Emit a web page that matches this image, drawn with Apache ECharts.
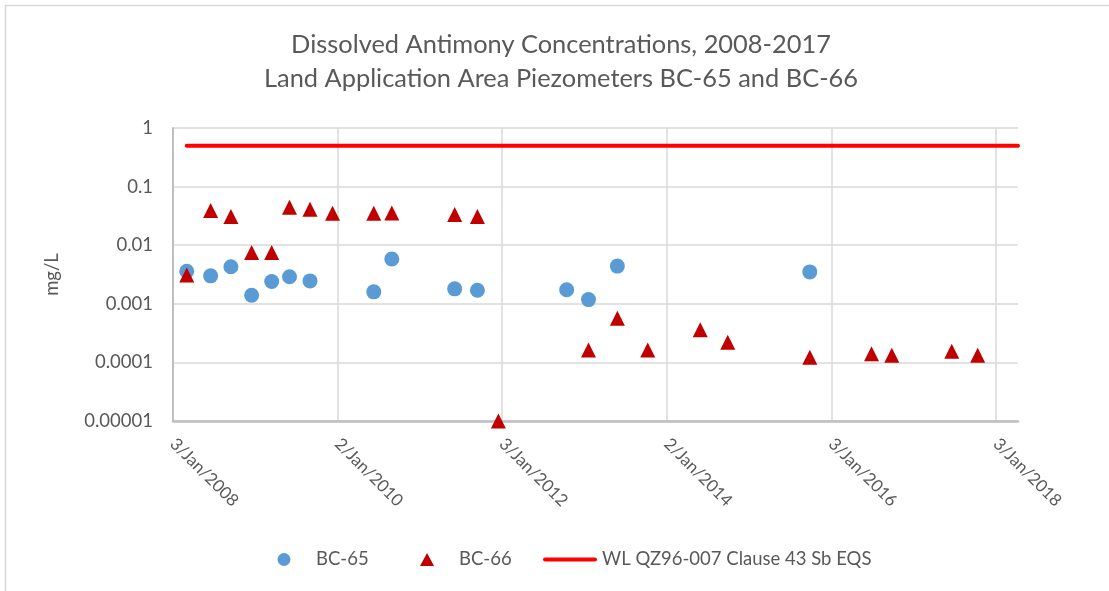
<!DOCTYPE html>
<html>
<head>
<meta charset="utf-8">
<title>Dissolved Antimony Concentrations, 2008-2017</title>
<script src="https://cdn.jsdelivr.net/npm/echarts@6/dist/echarts.min.js"></script>
<style>
  html, body { margin: 0; padding: 0; background: #ffffff; }
  #chart { width: 1109px; height: 591px; }
</style>
</head>
<body>
<div id="chart"></div>
<script>
// Sample dates and dissolved antimony results (mg/L)
const bc65Dates = ['2008-03-04', '2008-06-18', '2008-09-16', '2008-12-17', '2009-03-16', '2009-06-03',
  '2009-09-02', '2010-06-12', '2010-08-31', '2011-06-06', '2011-09-15', '2012-10-15', '2013-01-20',
  '2013-05-28', '2015-09-29'];
const bc65Values = [0.0036, 0.0030, 0.0043, 0.0014, 0.0024, 0.0029, 0.00246, 0.0016, 0.0058, 0.0018,
  0.0017, 0.00174, 0.00118, 0.0044, 0.0035];

const bc66Dates = ['2008-03-04', '2008-06-18', '2008-09-16', '2008-12-17', '2009-03-16', '2009-06-03',
  '2009-09-02', '2009-12-11', '2010-06-12', '2010-08-31', '2011-06-06', '2011-09-15', '2011-12-17',
  '2013-01-20', '2013-05-28', '2013-10-10', '2014-05-31', '2014-09-30', '2015-09-29', '2016-06-29',
  '2016-09-27', '2017-06-20', '2017-10-13'];
const bc66Values = [0.0031, 0.039, 0.031, 0.0075, 0.0075, 0.0446, 0.041, 0.035, 0.035, 0.0355, 0.0333,
  0.031, 0.00001, 0.000163, 0.000565, 0.000163, 0.00036, 0.00022, 0.000123, 0.00014, 0.000133,
  0.000155, 0.000132];

// Environmental quality standard (mg/L) over the monitoring period
const eqsDates = ['2008-03-04', '2018-04-10'];
const eqsValues = [0.5, 0.5];

// Axis ticks
const xTickLabels = ['3/Jan/2008', '2/Jan/2010', '3/Jan/2012', '2/Jan/2014', '3/Jan/2016', '3/Jan/2018'];
const yTickLabels = ['1', '0.1', '0.01', '0.001', '0.0001', '0.00001'];
const axisStartDate = '2008-01-03';
const axisEndDate = '2018-04-10';
const tickStepDays = 730.5;

const DAY = 86400000;
const dayOf = d => (Date.parse(d) - Date.parse(axisStartDate)) / DAY;
const pairs = (dates, values) => dates.map((d, i) => [dayOf(d), values[i]]);

const FONT = 'Lato, "Open Sans", sans-serif';
const TEXT = '#595959';
const EQS_NAME = 'WL QZ96-007 Clause 43 Sb EQS';

// One legend block per entry so each key sits at its own spot
const legendBase = {
  bottom: 22,
  itemWidth: 54,
  itemHeight: 13,
  padding: 0,
  symbolKeepAspect: true,
  textStyle: { fontFamily: FONT, fontSize: 18.5, color: TEXT }
};

const chart = echarts.init(document.getElementById('chart'), null, { renderer: 'canvas' });
chart.setOption({
  backgroundColor: '#ffffff',
  animation: false,
  title: {
    text: 'Dissolved Antimony Concentrations, 2008-2017\nLand Application Area Piezometers BC-65 and BC-66',
    left: 556,
    textAlign: 'center',
    top: 23,
    padding: 5,
    textStyle: { fontFamily: FONT, fontSize: 25.4, fontWeight: 'normal', color: TEXT, lineHeight: 34 }
  },
  legend: [
    Object.assign({}, legendBase, { left: 277.5, data: [{ name: 'BC-65', icon: 'circle' }] }),
    Object.assign({}, legendBase, { left: 420, data: [{ name: 'BC-66', icon: 'path://M6.5,0 L13,12 L0,12 Z' }] }),
    Object.assign({}, legendBase, {
      left: 543,
      data: [{ name: EQS_NAME, icon: 'path://M2,0 H52 A2,2 0 0 1 52,4 H2 A2,2 0 0 1 2,0 Z' }]
    })
  ],
  grid: { left: 173, right: 91, top: 128, bottom: 170 },
  xAxis: {
    type: 'value',
    min: 0,
    max: dayOf(axisEndDate),
    interval: tickStepDays,
    axisLine: { show: true, lineStyle: { color: '#bfbfbf', width: 2.5 } },
    axisTick: { show: false },
    splitLine: { show: true, showMaxLine: false, lineStyle: { color: '#d9d9d9', width: 1.5 } },
    axisLabel: {
      rotate: -45,
      margin: 20,
      showMaxLabel: false,
      fontFamily: FONT,
      fontSize: 17,
      color: TEXT,
      formatter: v => {
        const i = Math.round(v / tickStepDays);
        return Math.abs(v - i * tickStepDays) < 1 ? (xTickLabels[i] || '') : '';
      }
    }
  },
  yAxis: {
    type: 'log',
    logBase: 10,
    min: 0.00001,
    max: 1,
    name: 'mg/L',
    nameLocation: 'middle',
    nameGap: 111,
    nameTextStyle: { fontFamily: FONT, fontSize: 18.5, color: TEXT },
    axisLine: { show: true, lineStyle: { color: '#bfbfbf', width: 2 } },
    axisTick: { show: false },
    splitLine: { show: true, lineStyle: { color: '#d9d9d9', width: 1.5 } },
    axisLabel: {
      margin: 20,
      fontFamily: FONT,
      fontSize: 18.5,
      color: TEXT,
      formatter: v => yTickLabels[-Math.round(Math.log10(v))] || ''
    }
  },
  graphic: [
    {
      type: 'polyline',
      silent: true,
      shape: { points: [[5.5, 600], [5.5, 5.5], [1120, 5.5]] },
      style: { stroke: '#d9d9d9', lineWidth: 1.5, fill: null }
    }
  ],
  series: [
    {
      name: 'BC-65',
      type: 'scatter',
      symbol: 'circle',
      symbolSize: 15,
      symbolKeepAspect: true,
      itemStyle: { color: '#5b9bd5', opacity: 1 },
      data: pairs(bc65Dates, bc65Values),
      z: 3
    },
    {
      name: 'BC-66',
      type: 'scatter',
      symbol: 'triangle',
      symbolSize: 15,
      symbolKeepAspect: true,
      itemStyle: { color: '#c00000', opacity: 1 },
      data: pairs(bc66Dates, bc66Values),
      z: 4
    },
    {
      name: EQS_NAME,
      type: 'line',
      symbol: 'none',
      showSymbol: false,
      itemStyle: { color: '#ff0000' },
      lineStyle: { color: '#ff0000', width: 4, cap: 'round' },
      data: pairs(eqsDates, eqsValues),
      z: 2
    }
  ]
});
</script>
</body>
</html>
